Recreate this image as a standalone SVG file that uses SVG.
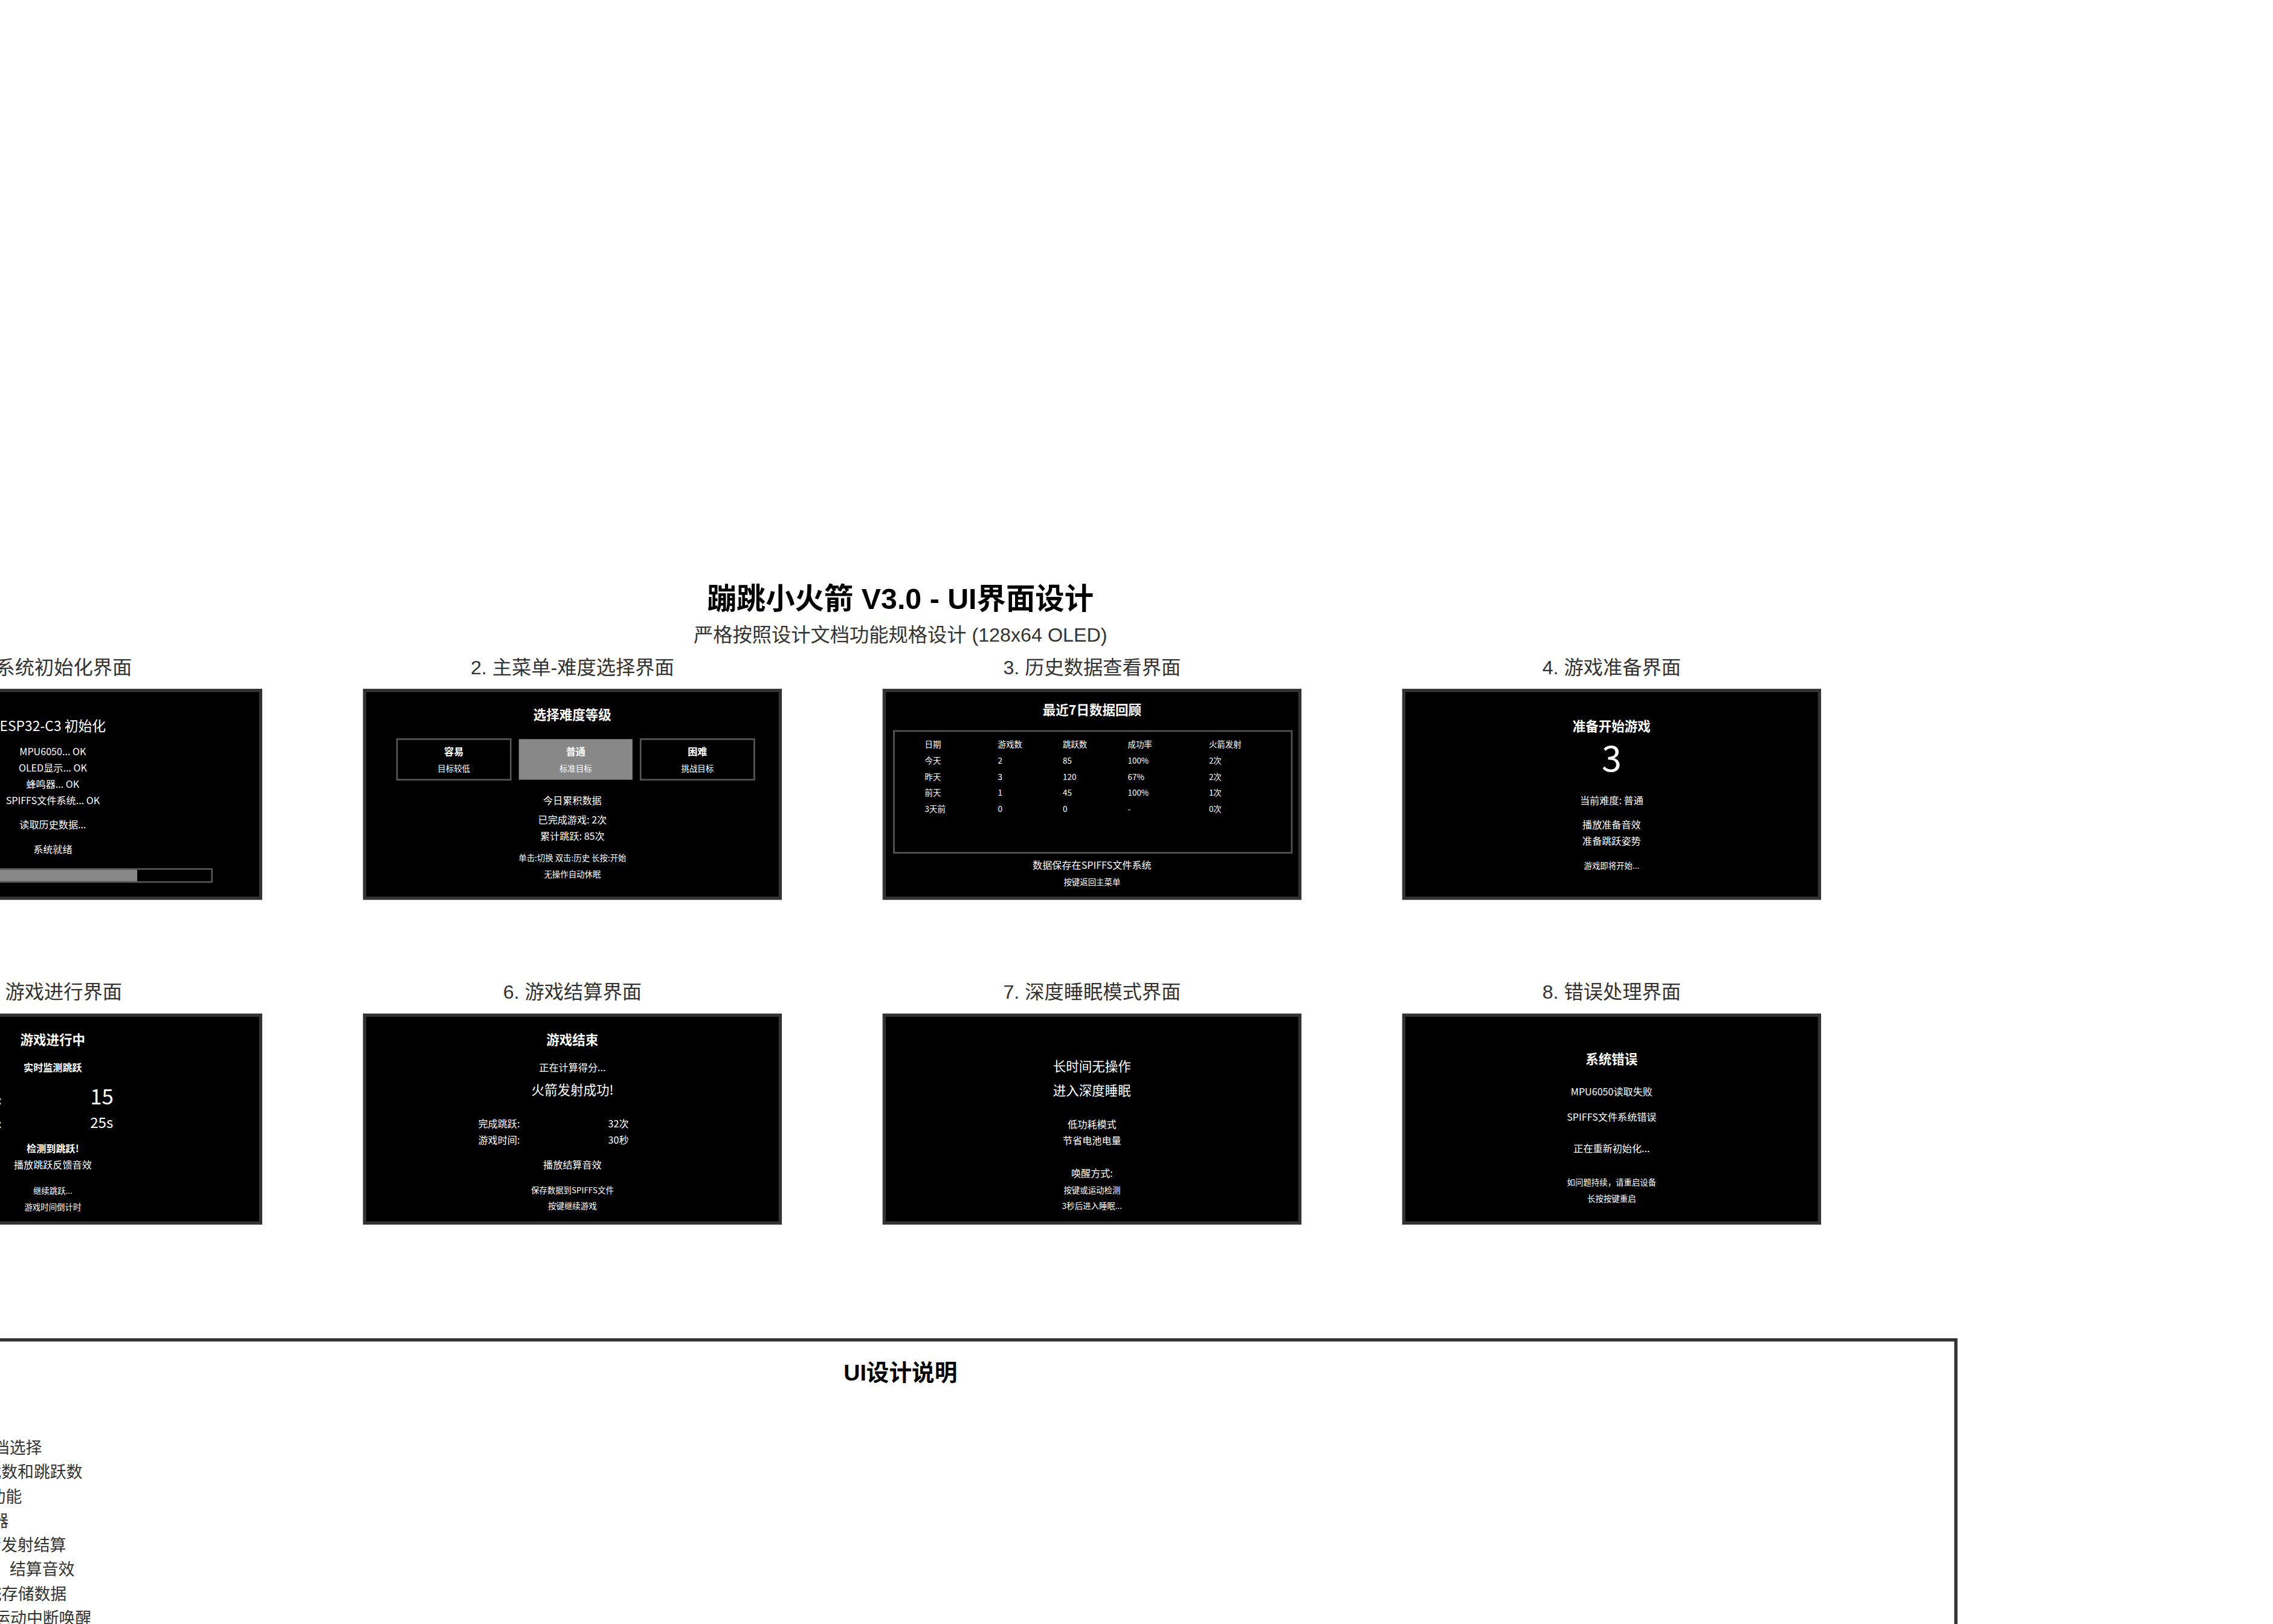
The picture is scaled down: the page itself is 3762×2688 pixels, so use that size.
<svg xmlns="http://www.w3.org/2000/svg" width="3762" height="2688" viewBox="0 0 3762 2688">
<defs>
<style>
.ptitle{font-family:"Liberation Sans","Noto Sans CJK SC",sans-serif;font-size:12px;fill:#333;text-anchor:middle}
.screen{fill:#000;stroke:#333;stroke-width:2}
.t{font-family:"Noto Sans CJK SC","Noto Sans",sans-serif;fill:#fff;text-anchor:middle}
.st{text-anchor:start}
.en{text-anchor:end}
.h{font-size:8px;font-weight:bold}
.s6{font-size:6px}
.s5{font-size:5px}
.b{font-weight:bold}
.box{fill:none;stroke:#555;stroke-width:1}
.sel{fill:#888}
.note{font-family:"Liberation Sans","Noto Sans CJK SC",sans-serif;font-size:10px;fill:#333;text-anchor:end}
</style>
</defs>
<rect x="0" y="0" width="3762" height="2688" fill="#fff"/>
<g transform="matrix(2.6875 0 0 2.6875 -391 874)">
<g id="header">
<text x="700" y="50" style="font-family:'Liberation Sans','Noto Sans CJK SC',sans-serif;font-size:18px;font-weight:bold;fill:#000;text-anchor:middle">蹦跳小火箭 V3.0 - UI界面设计</text>
<text x="700" y="70" style="font-family:'Liberation Sans','Noto Sans CJK SC',sans-serif;font-size:12px;fill:#333;text-anchor:middle">严格按照设计文档功能规格设计 (128x64 OLED)</text>
</g>

<g id="screen1">
<text class="ptitle" x="178" y="90">1. 系统初始化界面</text>
<g transform="translate(50 100)">
<rect class="screen" x="0" y="0" width="256" height="128"/>
<text class="t" x="128" y="25" style="font-size:8.5px">ESP32-C3 初始化</text>
<text class="t s6" x="128" y="40">MPU6050... OK</text>
<text class="t s6" x="128" y="50">OLED显示... OK</text>
<text class="t s6" x="128" y="60">蜂鸣器... OK</text>
<text class="t s6" x="128" y="70">SPIFFS文件系统... OK</text>
<text class="t s6" x="128" y="85">读取历史数据...</text>
<text class="t s6" x="128" y="100">系统就绪</text>
<rect class="sel" x="30" y="110" width="150" height="8"/>
<rect class="box" x="30" y="110" width="196" height="8"/>
</g>
</g>

<g id="screen2">
<text class="ptitle" x="498" y="90">2. 主菜单-难度选择界面</text>
<g transform="translate(370 100)">
<rect class="screen" x="0" y="0" width="256" height="128"/>
<text class="t h" x="128" y="18">选择难度等级</text>
<rect class="box" x="20" y="30" width="70" height="25"/>
<rect class="sel" x="95" y="30" width="70" height="25"/>
<rect class="box" x="170" y="30" width="70" height="25"/>
<text class="t s6 b" x="55" y="40">容易</text>
<text class="t s5" x="55" y="50">目标较低</text>
<text class="t s6 b" x="130" y="40">普通</text>
<text class="t s5" x="130" y="50">标准目标</text>
<text class="t s6 b" x="205" y="40">困难</text>
<text class="t s5" x="205" y="50">挑战目标</text>
<text class="t s6" x="128" y="70">今日累积数据</text>
<text class="t s6" x="128" y="82">已完成游戏: 2次</text>
<text class="t s6" x="128" y="92">累计跳跃: 85次</text>
<text class="t s5" x="128" y="105">单击:切换 双击:历史 长按:开始</text>
<text class="t s5" x="128" y="115">无操作自动休眠</text>
</g>
</g>

<g id="screen3">
<text class="ptitle" x="818" y="90">3. 历史数据查看界面</text>
<g transform="translate(690 100)">
<rect class="screen" x="0" y="0" width="256" height="128"/>
<text class="t h" x="128" y="15">最近7日数据回顾</text>
<rect class="box" x="6" y="25" width="245" height="75"/>
<g class="t s5 st">
<text x="25" y="35">日期</text><text x="70" y="35">游戏数</text><text x="110" y="35">跳跃数</text><text x="150" y="35">成功率</text><text x="200" y="35">火箭发射</text>
<text x="25" y="45">今天</text><text x="70" y="45">2</text><text x="110" y="45">85</text><text x="150" y="45">100%</text><text x="200" y="45">2次</text>
<text x="25" y="55">昨天</text><text x="70" y="55">3</text><text x="110" y="55">120</text><text x="150" y="55">67%</text><text x="200" y="55">2次</text>
<text x="25" y="65">前天</text><text x="70" y="65">1</text><text x="110" y="65">45</text><text x="150" y="65">100%</text><text x="200" y="65">1次</text>
<text x="25" y="75">3天前</text><text x="70" y="75">0</text><text x="110" y="75">0</text><text x="150" y="75">-</text><text x="200" y="75">0次</text>
</g>
<text class="t s6" x="128" y="110">数据保存在SPIFFS文件系统</text>
<text class="t s5" x="128" y="120">按键返回主菜单</text>
</g>
</g>

<g id="screen4">
<text class="ptitle" x="1138" y="90">4. 游戏准备界面</text>
<g transform="translate(1010 100)">
<rect class="screen" x="0" y="0" width="256" height="128"/>
<text class="t h" x="128" y="25">准备开始游戏</text>
<text class="t" x="128" y="50" style="font-size:22px">3</text>
<text class="t s6" x="128" y="70">当前难度: 普通</text>
<text class="t s6" x="128" y="85">播放准备音效</text>
<text class="t s6" x="128" y="95">准备跳跃姿势</text>
<text class="t s5" x="128" y="110">游戏即将开始...</text>
</g>
</g>

<g id="screen5">
<text class="ptitle" x="178" y="290">5. 游戏进行界面</text>
<g transform="translate(50 300)">
<rect class="screen" x="0" y="0" width="256" height="128"/>
<text class="t h" x="128" y="18">游戏进行中</text>
<text class="t s6 b" x="128" y="34.5">实时监测跳跃</text>
<text class="t en" x="96.5" y="55" style="font-size:7px">跳跃次数:</text>
<text class="t st" x="151" y="55" style="font-size:13px">15</text>
<text class="t en" x="96.5" y="69.5" style="font-size:7px">剩余时间:</text>
<text class="t st" x="151" y="69.5" style="font-size:9px">25s</text>
<text class="t s6 b" x="128" y="84.5">检测到跳跃!</text>
<text class="t s6" x="128" y="94.5">播放跳跃反馈音效</text>
<text class="t s5" x="128" y="110">继续跳跃...</text>
<text class="t s5" x="128" y="120">游戏时间倒计时</text>
</g>
</g>

<g id="screen6">
<text class="ptitle" x="498" y="290">6. 游戏结算界面</text>
<g transform="translate(370 300)">
<rect class="screen" x="0" y="0" width="256" height="128"/>
<text class="t h" x="128" y="18">游戏结束</text>
<text class="t s6" x="128" y="34.5">正在计算得分...</text>
<text class="t" x="128" y="49" style="font-size:8px">火箭发射成功!</text>
<text class="t s6 st" x="70" y="69">完成跳跃:</text>
<text class="t s6 st" x="150" y="69">32次</text>
<text class="t s6 st" x="70" y="79">游戏时间:</text>
<text class="t s6 st" x="150" y="79">30秒</text>
<text class="t s6" x="128" y="94.5">播放结算音效</text>
<text class="t s5" x="128" y="109.5">保存数据到SPIFFS文件</text>
<text class="t s5" x="128" y="119.5">按键继续游戏</text>
</g>
</g>

<g id="screen7">
<text class="ptitle" x="818" y="290">7. 深度睡眠模式界面</text>
<g transform="translate(690 300)">
<rect class="screen" x="0" y="0" width="256" height="128"/>
<text class="t" x="128" y="34.5" style="font-size:8px">长时间无操作</text>
<text class="t" x="128" y="49.5" style="font-size:8px">进入深度睡眠</text>
<text class="t s6" x="128" y="69.5">低功耗模式</text>
<text class="t s6" x="128" y="79.5">节省电池电量</text>
<text class="t s6" x="128" y="99.5">唤醒方式:</text>
<text class="t s5" x="128" y="109.5">按键或运动检测</text>
<text class="t s5" x="128" y="119.5">3秒后进入睡眠...</text>
</g>
</g>

<g id="screen8">
<text class="ptitle" x="1138" y="290">8. 错误处理界面</text>
<g transform="translate(1010 300)">
<rect class="screen" x="0" y="0" width="256" height="128"/>
<text class="t h" x="128" y="30">系统错误</text>
<text class="t s6" x="128" y="49.5">MPU6050读取失败</text>
<text class="t s6" x="128" y="65">SPIFFS文件系统错误</text>
<text class="t s6" x="128" y="84.5">正在重新初始化...</text>
<text class="t s5" x="128" y="105">如问题持续，请重启设备</text>
<text class="t s5" x="128" y="115">长按按键重启</text>
</g>
</g>

<g id="notes">
<rect x="50" y="500" width="1300" height="300" fill="#fff" stroke="#333" stroke-width="2"/>
<text x="700" y="525" style="font-family:'Liberation Sans','Noto Sans CJK SC',sans-serif;font-size:14px;font-weight:bold;fill:#000;text-anchor:middle">UI设计说明</text>
<text class="note" x="171.3" y="570">档选择</text>
<text class="note" x="196.3" y="585">戏数和跳跃数</text>
<text class="note" x="159" y="600">功能</text>
<text class="note" x="150.8" y="615">器</text>
<text class="note" x="186.2" y="630">箭发射结算</text>
<text class="note" x="191.4" y="645">、结算音效</text>
<text class="note" x="186.5" y="660">统存储数据</text>
<text class="note" x="201.8" y="675">运动中断唤醒</text>
</g>
<g id="connectors"/>
</g>
</svg>
